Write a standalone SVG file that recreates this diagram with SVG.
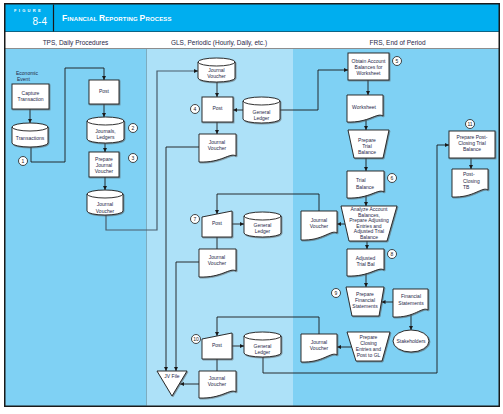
<svg xmlns="http://www.w3.org/2000/svg" width="503" height="414" viewBox="0 0 503 414">
<style>
.sh{fill:#fff;stroke:#1a1a1a;stroke-width:0.9;filter:url(#ds)}
.t{font-family:"Liberation Sans",Arial,sans-serif;font-size:5px;fill:#1f2747;text-anchor:middle}
.ts{font-family:"Liberation Sans",Arial,sans-serif;font-size:5px;fill:#1f2747;text-anchor:start}
.lh{font-family:"Liberation Sans",Arial,sans-serif;font-size:6.5px;fill:#1f2747;text-anchor:middle}
.c{fill:none;stroke:#1a1a1a;stroke-width:0.9}
.ca{fill:none;stroke:#1a1a1a;stroke-width:0.9;marker-end:url(#ah)}
.cg{fill:none;stroke:#4a5c6a;stroke-width:1.2;marker-end:url(#ah)}
.n{fill:#fff;stroke:#1a1a1a;stroke-width:0.8}
.nt{font-family:"Liberation Sans",Arial,sans-serif;font-size:5px;fill:#1a1a1a;text-anchor:middle}
</style>
<defs>
<marker id="ah" viewBox="0 0 6 6" refX="6" refY="3" markerWidth="4" markerHeight="4" markerUnits="userSpaceOnUse" orient="auto"><path d="M0,0 L6,3 L0,6 z" fill="#1a1a1a"/></marker>
<filter id="ds" x="-10%" y="-10%" width="130%" height="130%"><feDropShadow dx="0.8" dy="0.8" stdDeviation="0.2" flood-color="#555" flood-opacity="0.7"/></filter>
</defs>

<!-- backgrounds -->
<rect x="4" y="3" width="496" height="404" fill="#1a1a1a"/>
<rect x="5.5" y="4.5" width="493" height="27" fill="#00aeef"/>
<rect x="5.5" y="32" width="493" height="16.5" fill="#fff"/>
<rect x="5.5" y="49" width="141" height="356.5" fill="#7fd1f4"/>
<rect x="146.5" y="49" width="146.5" height="356.5" fill="#ade1f8"/>
<rect x="293" y="49" width="205.5" height="356.5" fill="#7fd1f4"/>
<line x1="53.5" y1="4.5" x2="53.5" y2="31.5" stroke="#1a1a1a" stroke-width="1.2"/>

<!-- header text -->
<text x="14" y="12" font-family="Liberation Sans,Arial,sans-serif" font-size="4" font-weight="bold" fill="#fff" letter-spacing="2.3">FIGURE</text>
<text x="47" y="25" font-family="Liberation Sans,Arial,sans-serif" font-size="10" fill="#fff" text-anchor="end">8-4</text>
<text x="62" y="21" font-family="Liberation Sans,Arial,sans-serif" font-weight="bold" fill="#fff" font-size="6" letter-spacing="0.15"><tspan font-size="8.5">F</tspan>INANCIAL <tspan font-size="8.5">R</tspan>EPORTING <tspan font-size="8.5">P</tspan>ROCESS</text>
<text class="lh" x="75.5" y="45">TPS, Daily Procedures</text>
<text class="lh" x="219" y="45">GLS, Periodic (Hourly, Daily, etc.)</text>
<text class="lh" x="397.5" y="45">FRS, End of Period</text>

<!-- connectors -->
<g id="connectors">
<path class="ca" d="M30,109 V123"/>
<path class="ca" d="M31,147 V162 H65 V68 H104 V80"/>
<path class="ca" d="M104,104 V117"/>
<path class="ca" d="M105,143 V152"/>
<path class="ca" d="M105,177 V190"/>
<path class="cg" d="M106,215 V230 H157 V71 H198"/>
<path class="ca" d="M217,82 V97"/>
<path class="ca" d="M243,110 H233"/>
<path class="ca" d="M280,110 H318 V70 H348"/>
<path class="ca" d="M217,122 V134"/>
<path class="ca" d="M199,147 H166 V371"/>
<path class="ca" d="M368,80 V95"/>
<path class="ca" d="M366,119 V130"/>
<path class="ca" d="M366,158 V171"/>
<path class="ca" d="M366,195 V206"/>
<path class="ca" d="M345,224 H337"/>
<path class="ca" d="M319,211 V194 H217 V214"/>
<path class="ca" d="M232,224 H244"/>
<path class="c" d="M217,237 V249"/>
<path class="ca" d="M199,262 H176 V371"/>
<path class="ca" d="M367,241 V249"/>
<path class="ca" d="M366,273 V287"/>
<path class="ca" d="M393,302 H381.5"/>
<path class="ca" d="M411,313 V330"/>
<path class="ca" d="M351.5,347 H337"/>
<path class="ca" d="M319,334 V317 H217 V336"/>
<path class="ca" d="M232,346 H244"/>
<path class="c" d="M217,359 V371"/>
<path class="ca" d="M199,384 H180"/>
<path class="ca" d="M263,357 V373 H437 V145 H449"/>
<path class="ca" d="M471,158 V169"/>
</g>

<!-- lane 1 -->
<text class="ts" x="16" y="75" font-size="5.5">Economic</text>
<text class="ts" x="17" y="81" font-size="5.5">Event</text>
<g id="capture"><rect class="sh" x="12" y="84" width="37" height="25"/><text class="t" x="30.5" y="95">Capture</text><text class="t" x="30.5" y="101">Transaction</text></g>
<g id="transactions"><path class="sh" d="M12,127 A18,4 0 0 1 48,127 V143 A18,4 0 0 1 12,143 Z"/><path class="c" d="M12,127 A18,4 0 0 0 48,127"/><text class="t" x="30" y="140">Transactions</text></g>
<g id="post1"><rect class="sh" x="89" y="80" width="30" height="24"/><text class="t" x="104" y="93">Post</text></g>
<g id="journals"><path class="sh" d="M87,121 A18.5,4 0 0 1 124,121 V139 A18.5,4 0 0 1 87,139 Z"/><path class="c" d="M87,121 A18.5,4 0 0 0 124,121"/><text class="t" x="105.5" y="133">Journals,</text><text class="t" x="105.5" y="139">Ledgers</text></g>
<g id="preparejv"><rect class="sh" x="89" y="152" width="30" height="25"/><text class="t" x="104" y="161">Prepare</text><text class="t" x="104" y="167">Journal</text><text class="t" x="104" y="173">Voucher</text></g>
<g id="jvcyl1"><path class="sh" d="M87,194 A18,4 0 0 1 123,194 V211 A18,4 0 0 1 87,211 Z"/><path class="c" d="M87,194 A18,4 0 0 0 123,194"/><text class="t" x="105" y="206">Journal</text><text class="t" x="105" y="212.5">Voucher</text></g>

<!-- lane 2 -->
<g id="jvcyl2"><path class="sh" d="M198,62 A18.5,4 0 0 1 235,62 V78 A18.5,4 0 0 1 198,78 Z"/><path class="c" d="M198,62 A18.5,4 0 0 0 235,62"/><text class="t" x="216.5" y="72">Journal</text><text class="t" x="216.5" y="78">Voucher</text></g>
<g id="post4"><rect class="sh" x="202" y="97" width="31" height="25"/><text class="t" x="217.5" y="110">Post</text></g>
<g id="gl4"><path class="sh" d="M243,101 A18.5,4 0 0 1 280,101 V119 A18.5,4 0 0 1 243,119 Z"/><path class="c" d="M243,101 A18.5,4 0 0 0 280,101"/><text class="t" x="261.5" y="114">General</text><text class="t" x="261.5" y="120">Ledger</text></g>
<g id="jvdoc4"><path class="sh" d="M199,134 H236 V156 C230,152 222,163 199,162 Z"/><text class="t" x="217" y="144">Journal</text><text class="t" x="217" y="150">Voucher</text></g>
<g id="post7"><path class="sh" d="M202,217 L232,211 V237 H202 Z"/><text class="t" x="217" y="225">Post</text></g>
<g id="gl7"><path class="sh" d="M244,216 A18.5,4 0 0 1 281,216 V233 A18.5,4 0 0 1 244,233 Z"/><path class="c" d="M244,216 A18.5,4 0 0 0 281,216"/><text class="t" x="262.5" y="227">General</text><text class="t" x="262.5" y="233">Ledger</text></g>
<g id="jvdoc7"><path class="sh" d="M199,249 H236 V271 C230,267 222,278 199,277 Z"/><text class="t" x="217" y="259">Journal</text><text class="t" x="217" y="265">Voucher</text></g>
<g id="post10"><path class="sh" d="M202,339 L232,333 V359 H202 Z"/><text class="t" x="217" y="347">Post</text></g>
<g id="gl10"><path class="sh" d="M244,336 A18.5,4 0 0 1 281,336 V353 A18.5,4 0 0 1 244,353 Z"/><path class="c" d="M244,336 A18.5,4 0 0 0 281,336"/><text class="t" x="262.5" y="348">General</text><text class="t" x="262.5" y="354">Ledger</text></g>
<g id="jvdoc10"><path class="sh" d="M199,371 H236 V392 C230,388 222,399 199,398 Z"/><text class="t" x="217" y="380">Journal</text><text class="t" x="217" y="386">Voucher</text></g>
<g id="jvfile"><path class="sh" d="M157,371 H187 L172,396 Z"/><text class="t" x="172" y="378">JV File</text></g>

<!-- lane 3 -->
<g id="obtain"><rect class="sh" x="348" y="53" width="41" height="27"/><text class="t" x="368.5" y="63">Obtain Account</text><text class="t" x="368.5" y="69">Balances for</text><text class="t" x="368.5" y="75">Worksheet</text></g>
<g id="worksheet"><path class="sh" d="M347,95 H383 V116 C377,112 369,123 347,122 Z"/><text class="t" x="364" y="109">Worksheet</text></g>
<g id="preparetb"><path class="sh" d="M348,130 H389 L383,158 H354 Z"/><text class="t" x="367" y="142">Prepare</text><text class="t" x="367" y="148">Trial</text><text class="t" x="367" y="154">Balance</text></g>
<g id="trialbal"><path class="sh" d="M347,171 H384 V192 C378,188 370,199 347,198 Z"/><text class="ts" x="356" y="182">Trial</text><text class="ts" x="356" y="189">Balance</text></g>
<g id="analyze"><path class="sh" d="M341,206 H397 L387,241 H349 Z"/><text class="t" x="369" y="211">Analyze Account</text><text class="t" x="369" y="216.6">Balances,</text><text class="t" x="369" y="222.2">Prepare Adjusting</text><text class="t" x="369" y="227.8">Entries and</text><text class="t" x="369" y="233.4">Adjusted Trial</text><text class="t" x="369" y="239">Balance</text></g>
<g id="jvdoc3a"><path class="sh" d="M301,211 H337 V233 C331,229 323,241 301,240 Z"/><text class="t" x="319" y="222">Journal</text><text class="t" x="319" y="228">Voucher</text></g>
<g id="adjtb"><path class="sh" d="M347,249 H384 V270 C378,266 370,277 347,276 Z"/><text class="t" x="365.5" y="260">Adjusted</text><text class="t" x="365.5" y="266">Trial Bal</text></g>
<g id="preparefs"><path class="sh" d="M346,287 H384 L379,316 H352 Z"/><text class="t" x="365" y="296">Prepare</text><text class="t" x="365" y="302">Financial</text><text class="t" x="365" y="308">Statements</text></g>
<g id="finstmts"><path class="sh" d="M393,289 H428 V310 C422,306 415,318 393,317 Z"/><text class="t" x="411" y="298">Financial</text><text class="t" x="411" y="305">Statements</text></g>
<g id="stakeholders"><ellipse class="sh" cx="411" cy="341" rx="18" ry="11"/><text class="t" x="411" y="343">Stakeholders</text></g>
<g id="prepareclosing"><path class="sh" d="M347,332 H390 L382,361 H356 Z"/><text class="t" x="368.5" y="339">Prepare</text><text class="t" x="368.5" y="345">Closing</text><text class="t" x="368.5" y="351">Entries and</text><text class="t" x="368.5" y="357">Post to GL</text></g>
<g id="jvdoc3b"><path class="sh" d="M301,334 H337 V355 C331,351 323,363 301,362 Z"/><text class="t" x="319" y="344">Journal</text><text class="t" x="319" y="350">Voucher</text></g>
<g id="preparepctb"><rect class="sh" x="449" y="131" width="46" height="27"/><text class="t" x="472" y="139">Prepare Post-</text><text class="t" x="472" y="145">Closing Trial</text><text class="t" x="472" y="151">Balance</text></g>
<g id="pctb"><path class="sh" d="M452,169 H488 V190 C482,186 474,198 452,197 Z"/><text class="ts" x="463" y="176">Post-</text><text class="ts" x="463" y="183">Closing</text><text class="ts" x="463" y="189">TB</text></g>

<!-- step numbers -->
<g id="steps">
<circle class="n" cx="23" cy="161" r="4.5"/><text class="nt" x="23" y="162.8">1</text>
<circle class="n" cx="133" cy="128" r="4.5"/><text class="nt" x="133" y="129.8">2</text>
<circle class="n" cx="133" cy="158" r="4.5"/><text class="nt" x="133" y="159.8">3</text>
<circle class="n" cx="195" cy="109" r="4.5"/><text class="nt" x="195" y="110.8">4</text>
<circle class="n" cx="397" cy="61" r="4.5"/><text class="nt" x="397" y="62.8">5</text>
<circle class="n" cx="392" cy="178" r="4.5"/><text class="nt" x="392" y="179.8">6</text>
<circle class="n" cx="195" cy="219" r="4.5"/><text class="nt" x="195" y="220.8">7</text>
<circle class="n" cx="392" cy="254" r="4.5"/><text class="nt" x="392" y="255.8">8</text>
<circle class="n" cx="336" cy="293" r="4.5"/><text class="nt" x="336" y="294.8">9</text>
<circle class="n" cx="196" cy="339" r="4.5"/><text class="nt" x="196" y="340.8">10</text>
<circle class="n" cx="470" cy="124" r="4.5"/><text class="nt" x="470" y="125.8">11</text>
</g>
</svg>
